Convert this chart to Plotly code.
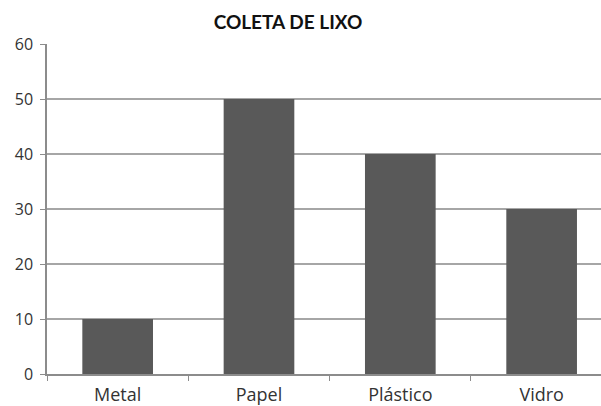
import plotly.graph_objects as go

categories = ["Metal", "Papel", "Plástico", "Vidro"]
values = [10, 50, 40, 30]
title_text = "COLETA DE LIXO"

fig = go.Figure(go.Bar(x=categories, y=values, marker=dict(color="#595959", line=dict(width=0)), width=0.5))

fig.update_layout(
    width=601, height=406,
    margin=dict(l=47, r=0, t=44, b=32, autoexpand=False),
    paper_bgcolor="white", plot_bgcolor="white",
    showlegend=False,
    title=dict(text=f"<b>{title_text}</b>", x=288/601, xanchor="center", y=1-22/406, yanchor="middle",
               font=dict(family="Lato", size=19, color="#111")),
    bargap=0.5,
)
fig.update_xaxes(range=[-0.5, 3.42], showline=True, linecolor="#8c8c8c", linewidth=1.5,
                 ticks="outside", tickson="boundaries", ticklen=5, tickcolor="#8c8c8c",
                 automargin=False, ticklabelstandoff=4,
                 tickfont=dict(family="Open Sans", size=18, color="#333"), showgrid=False)
fig.update_yaxes(range=[0, 60], dtick=10, showline=True, linecolor="#8c8c8c", linewidth=1.5,
                 ticks="outside", ticklen=5, tickcolor="#8c8c8c", automargin=False,
                 ticklabelstandoff=4,
                 gridcolor="#a6a6a6", gridwidth=1.5, zeroline=False,
                 tickfont=dict(family="Open Sans", size=16, color="#333"))

fig.write_html("out.html", config={"displayModeBar": False},
               post_script="document.body.style.margin='0';document.body.style.overflow='hidden';")
